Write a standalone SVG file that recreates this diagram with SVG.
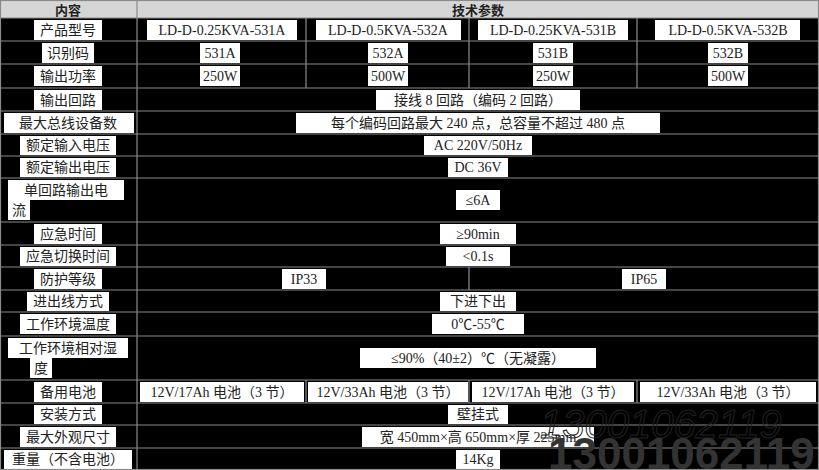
<svg xmlns="http://www.w3.org/2000/svg" width="819" height="470" viewBox="0 0 819 470">
<style>
.c{fill:#000}
.w{fill:#fff}
text{font-family:"Liberation Serif","Noto Sans CJK SC",serif;font-size:14px;fill:#222;text-anchor:middle;dominant-baseline:central}
.h{font-family:"Noto Sans CJK SC",sans-serif;font-weight:bold;font-size:13px}
.g{stroke:#8a8a8a;stroke-width:1.2;fill:none}
.wm1{font-family:"Liberation Sans",sans-serif;font-style:italic;font-size:40px;fill:none;stroke:#222;stroke-width:1;text-anchor:start}
.wm2{font-family:"Liberation Sans",sans-serif;font-weight:bold;font-size:44px;fill:#333;text-anchor:start}
</style>
<rect width="819" height="470" fill="#000"/>
<rect x="0" y="0" width="819" height="18" fill="#d6d6d6"/>
<g id="labels">
<rect class="w" x="34" y="20" width="68" height="20"/><text x="68" y="30">产品型号</text>
<rect class="w" x="42" y="43" width="52" height="20"/><text x="68" y="53">识别码</text>
<rect class="w" x="34" y="66" width="68" height="20"/><text x="68" y="76">输出功率</text>
<rect class="w" x="34" y="90" width="68" height="20"/><text x="68" y="100">输出回路</text>
<rect class="w" x="4" y="113" width="130" height="20"/><text x="68" y="123">最大总线设备数</text>
<rect class="w" x="20" y="136" width="96" height="19"/><text x="68" y="145">额定输入电压</text>
<rect class="w" x="20" y="158" width="96" height="19"/><text x="68" y="167">额定输出电压</text>
<rect class="w" x="8" y="180" width="116" height="20"/><text x="66" y="190">单回路输出电</text>
<rect class="w" x="8" y="200" width="22" height="20"/><text x="19" y="210">流</text>
<rect class="w" x="34" y="224" width="68" height="20"/><text x="68" y="234">应急时间</text>
<rect class="w" x="20" y="247" width="96" height="19"/><text x="68" y="256">应急切换时间</text>
<rect class="w" x="34" y="269" width="68" height="20"/><text x="68" y="279">防护等级</text>
<rect class="w" x="27" y="292" width="82" height="19"/><text x="68" y="301">进出线方式</text>
<rect class="w" x="20" y="314" width="96" height="20"/><text x="68" y="324">工作环境温度</text>
<rect class="w" x="8" y="338" width="120" height="20"/><text x="68" y="348">工作环境相对湿</text>
<rect class="w" x="30" y="358" width="22" height="20"/><text x="41" y="368">度</text>
<rect class="w" x="34" y="382" width="68" height="20"/><text x="68" y="392">备用电池</text>
<rect class="w" x="34" y="405" width="68" height="19"/><text x="68" y="414">安装方式</text>
<rect class="w" x="20" y="427" width="96" height="20"/><text x="68" y="437">最大外观尺寸</text>
<rect class="w" x="4" y="450" width="128" height="19"/><text x="68" y="459">重量（不含电池）</text>
</g>
<g id="values">
<rect class="w" x="147" y="20" width="150" height="20"/><text x="222" y="30">LD-D-0.25KVA-531A</text>
<rect class="w" x="316" y="20" width="145" height="20"/><text x="388" y="30">LD-D-0.5KVA-532A</text>
<rect class="w" x="478" y="20" width="150" height="20"/><text x="553" y="30">LD-D-0.25KVA-531B</text>
<rect class="w" x="655" y="20" width="145" height="20"/><text x="728" y="30">LD-D-0.5KVA-532B</text>
<rect class="w" x="200" y="43" width="40" height="20"/><text x="220" y="53">531A</text>
<rect class="w" x="368" y="43" width="40" height="20"/><text x="388" y="53">532A</text>
<rect class="w" x="533" y="43" width="40" height="20"/><text x="553" y="53">531B</text>
<rect class="w" x="708" y="43" width="40" height="20"/><text x="728" y="53">532B</text>
<rect class="w" x="200" y="66" width="40" height="20"/><text x="220" y="76">250W</text>
<rect class="w" x="368" y="66" width="40" height="20"/><text x="388" y="76">500W</text>
<rect class="w" x="533" y="66" width="40" height="20"/><text x="553" y="76">250W</text>
<rect class="w" x="708" y="66" width="40" height="20"/><text x="728" y="76">500W</text>
<rect class="w" x="376" y="90" width="204" height="20"/><text x="478" y="100">接线 8 回路（编码 2 回路）</text>
<rect class="w" x="296" y="113" width="364" height="20"/><text x="478" y="123">每个编码回路最大 240 点，总容量不超过 480 点</text>
<rect class="w" x="424" y="136" width="108" height="19"/><text x="478" y="145">AC 220V/50Hz</text>
<rect class="w" x="448" y="158" width="60" height="19"/><text x="478" y="167">DC 36V</text>
<rect class="w" x="456" y="190" width="44" height="20"/><text x="478" y="200">≤6A</text>
<rect class="w" x="440" y="224" width="76" height="20"/><text x="478" y="234">≥90min</text>
<rect class="w" x="446" y="247" width="64" height="19"/><text x="478" y="256">&lt;0.1s</text>
<rect class="w" x="282" y="269" width="44" height="20"/><text x="304" y="279">IP33</text>
<rect class="w" x="622" y="269" width="44" height="20"/><text x="644" y="279">IP65</text>
<rect class="w" x="440" y="292" width="76" height="19"/><text x="478" y="301">下进下出</text>
<rect class="w" x="432" y="314" width="92" height="20"/><text x="478" y="324">0℃-55℃</text>
<rect class="w" x="360" y="348" width="236" height="20"/><text x="478" y="358">≤90%（40±2）℃（无凝露）</text>
<rect class="w" x="140" y="382" width="164" height="20"/><text x="222" y="392">12V/17Ah 电池（3 节）</text>
<rect class="w" x="308" y="382" width="160" height="20"/><text x="388" y="392">12V/33Ah 电池（3 节）</text>
<rect class="w" x="472" y="382" width="162" height="20"/><text x="553" y="392">12V/17Ah 电池（3 节）</text>
<rect class="w" x="640" y="382" width="176" height="20"/><text x="728" y="392">12V/33Ah 电池（3 节）</text>
<rect class="w" x="448" y="405" width="60" height="19"/><text x="478" y="414">壁挂式</text>
<rect class="w" x="362" y="427" width="232" height="20"/><text x="478" y="437">宽 450mm×高 650mm×厚 225mm</text>
<rect class="w" x="456" y="450" width="44" height="19"/><text x="478" y="459">14Kg</text>
</g>
<g id="grid" class="g">
<rect x="0.5" y="0.5" width="818" height="469"/>
<path d="M137 0V470M0 18H819M0 41H819M0 64H819M0 88H819M0 111H819M0 134H819M0 156H819M0 178H819M0 222H819M0 245H819M0 267H819M0 290H819M0 312H819M0 336H819M0 380H819M0 403H819M0 425H819M0 448H819"/>
<path d="M306 18V88M469 18V88M637 18V88M306 380V403M469 380V403M637 380V403M469 267V290"/>
</g>
<text x="68" y="9" class="h">内容</text>
<text x="478" y="9" class="h">技术参数</text>
<text class="wm1" x="540" y="424">13001062119</text>
<text class="wm2" x="548" y="453">13001062119</text>
</svg>
